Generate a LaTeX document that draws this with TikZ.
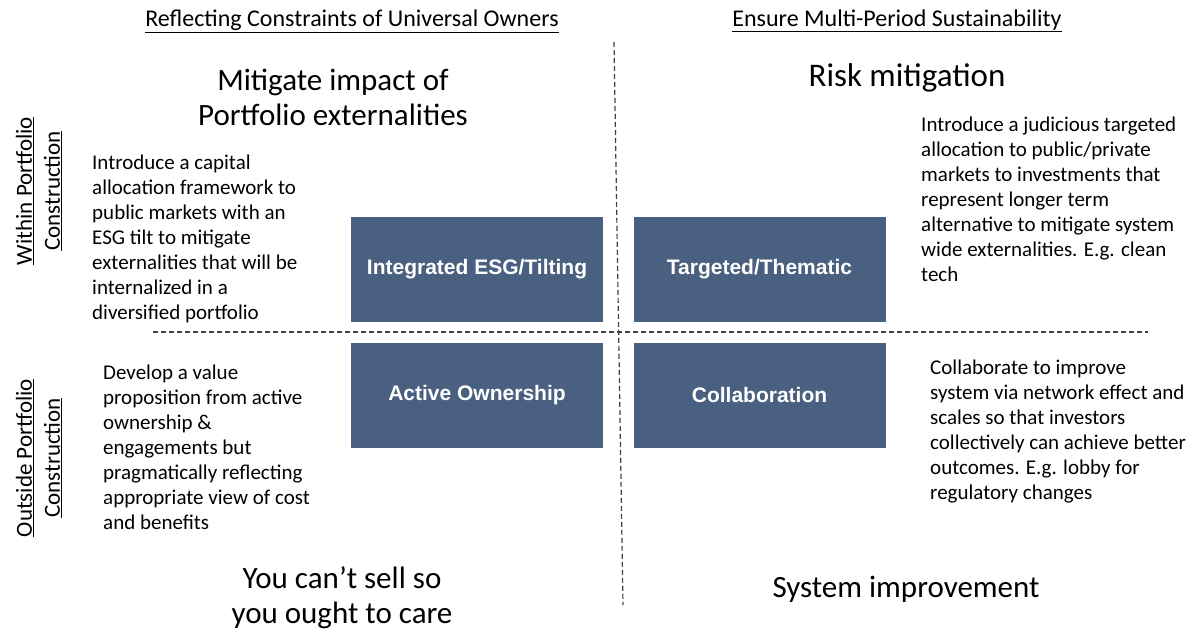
\documentclass[tikz,border=0pt]{standalone}
\usepackage{fontspec}
\setmainfont{Carlito}
\newfontfamily\boxfont{Liberation Sans}
\definecolor{slate}{RGB}{74,96,128}
\definecolor{divgray}{RGB}{64,64,64}
\tikzset{
  quadbox/.style={fill=slate,minimum width=252pt,minimum height=105pt,inner sep=0pt,text=white,font=\boxfont\bfseries\fontsize{21}{25}\selectfont},
  bodytext/.style={align=left,inner sep=0pt,anchor=north west,font=\fontsize{21}{25}\selectfont},
  headtext/.style={inner sep=0pt,font=\fontsize{24}{28}\selectfont},
  titletext/.style={align=center,inner sep=0pt,font=\fontsize{31}{35}\selectfont},
  sidetext/.style={rotate=90,align=center,inner sep=0pt,font=\fontsize{23}{28}\selectfont},
  divider/.style={line width=1.2pt,divgray,dash pattern=on 5pt off 3pt}
}
\begin{document}
\begin{tikzpicture}[x=1pt,y=-1pt]
\useasboundingbox (0,0) rectangle (1189,632);
% column headers
\node (hdrL) at (352,21) [headtext] {\underline{Reflecting Constraints of Universal Owners}};
\node (hdrR) at (897,21) [headtext] {\underline{Ensure Multi-Period Sustainability}};
% row headers
\node (rowT) at (39,191) [sidetext] {\underline{Within Portfolio}\\\underline{Construction}};
\node (rowB) at (39,458) [sidetext] {\underline{Outside Portfolio}\\\underline{Construction}};
% quadrant titles
\node (tTL) at (333,97) [titletext] {Mitigate impact of\\Portfolio externalities};
\node (tTR) at (907,78) [titletext,font=\fontsize{33}{37}\selectfont] {Risk mitigation};
\node (tBL) at (342,598) [titletext] {You can’t sell so\\you ought to care};
\node (tBR) at (906,589) [titletext] {System improvement};
% dividers
\coordinate (vtop) at (614,42);
\coordinate (vbot) at (623,605);
\coordinate (hleft) at (153,332);
\coordinate (hright) at (1148,332);
\draw[divider] (vtop) -- (vbot);
\draw[divider] (hleft) -- (hright);
% boxes
\node (esg) at (477,269.5) [quadbox] {Integrated ESG/Tilting};
\node (thematic) at (759.5,269.5) [quadbox] {Targeted/Thematic};
\node (active) at (477,395) [quadbox] {Active Ownership};
\node (collab) at (759.5,395) [quadbox] {Collaboration};
% descriptions
\node (dTL) at (92,155) [bodytext] {Introduce a capital\\allocation framework to\\public markets with an\\ESG tilt to mitigate\\externalities that will be\\internalized in a\\diversified portfolio};
\node (dTR) at (921,117) [bodytext] {Introduce a judicious targeted\\allocation to public/private\\markets to investments that\\represent longer term\\alternative to mitigate system\\wide externalities. E.g. clean\\tech};
\node (dBL) at (103,365) [bodytext] {Develop a value\\proposition from active\\ownership \&\\engagements but\\pragmatically reflecting\\appropriate view of cost\\and benefits};
\node (dBR) at (930,360) [bodytext] {Collaborate to improve\\system via network effect and\\scales so that investors\\collectively can achieve better\\outcomes. E.g. lobby for\\regulatory changes};
\end{tikzpicture}
\end{document}
